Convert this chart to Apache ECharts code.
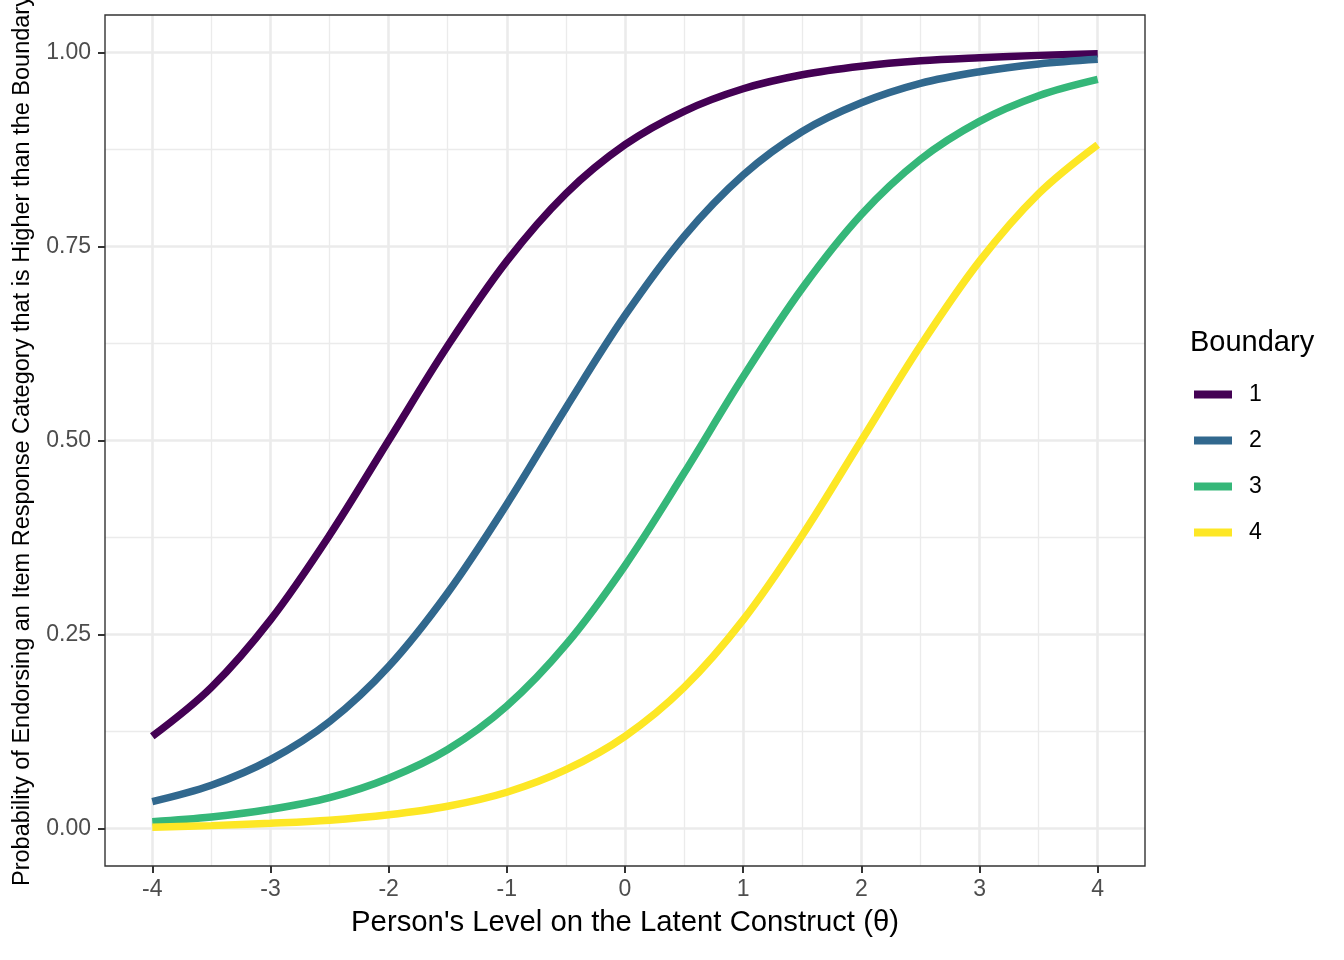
<!DOCTYPE html>
<html>
<head>
<meta charset="utf-8">
<script src="https://cdn.jsdelivr.net/npm/echarts@6/dist/echarts.min.js"></script>
<style>
html,body{margin:0;padding:0;background:#fff;}
#chart{width:1344px;height:960px;}
</style>
</head>
<body>
<div id="chart"></div>
<script>
// ---- data ----
var thetaValues = [-4,-3.5,-3,-2.5,-2,-1.5,-1,-0.5,0,0.5,1,1.5,2,2.5,3,3.5,4];
var boundary1 = [0.119,0.182,0.269,0.378,0.500,0.622,0.731,0.818,0.881,0.924,0.953,0.971,0.982,0.989,0.993,0.996,0.998];
var boundary2 = [0.035,0.056,0.089,0.138,0.209,0.304,0.418,0.542,0.661,0.763,0.842,0.898,0.935,0.960,0.975,0.985,0.991];
var boundary3 = [0.009,0.015,0.025,0.040,0.065,0.102,0.158,0.237,0.339,0.458,0.582,0.696,0.791,0.862,0.911,0.944,0.965];
var boundary4 = [0.002,0.004,0.007,0.011,0.018,0.029,0.047,0.076,0.119,0.182,0.269,0.378,0.500,0.622,0.731,0.818,0.881];
var seriesNames = ['1','2','3','4'];
var xTicks = [-4,-3,-2,-1,0,1,2,3,4];
var xMinorTicks = [-3.5,-2.5,-1.5,-0.5,0.5,1.5,2.5,3.5];
var yTicks = [0,0.25,0.5,0.75,1];
var yMinorTicks = [0.125,0.375,0.625,0.875];
var colors = ['#440154','#31688E','#35B779','#FDE725'];

var FONT = '"Liberation Sans", Arial, Helvetica, sans-serif';
var allSeries = [boundary1, boundary2, boundary3, boundary4];

function pairs(ys){ return thetaValues.map(function(x,i){ return [x, ys[i]]; }); }

var chart = echarts.init(document.getElementById('chart'), null, {renderer:'canvas'});
var xMin = -4.4, xMax = 4.4, yMin = -0.048, yMax = 1.048;

var option = {
  backgroundColor: '#ffffff',
  animation: false,
  textStyle: {fontFamily: FONT},
  color: colors,
  title: {
    text: 'Boundary', left: 1185, top: 323,
    textStyle: {fontFamily: FONT, fontSize: 29, fontWeight: 'normal', color: '#000'}
  },
  legend: {
    orient: 'vertical', left: 1189, top: 378,
    icon: 'rect', itemWidth: 38, itemHeight: 8, itemGap: 23,
    data: seriesNames,
    textStyle: {fontFamily: FONT, fontSize: 23, color: '#000', padding: [0,0,0,12]}
  },
  grid: {
    left: 105, right: 199, top: 15, bottom: 94,
    show: true, borderColor: '#333333', borderWidth: 1.4, backgroundColor: 'transparent',
    containLabel: false, outerBoundsMode: 'none', z: 5
  },
  xAxis: [{
    type: 'value', min: xMin, max: xMax,
    name: "Person's Level on the Latent Construct (\u03b8)",
    nameLocation: 'middle', nameGap: 42,
    nameTextStyle: {fontFamily: FONT, fontSize: 29.3, color: '#000'},
    axisLine: {show: false, onZero: false},
    axisTick: {show: true, customValues: xTicks, length: 7, lineStyle: {color: '#333333', width: 2}},
    axisLabel: {customValues: xTicks, margin: 12, fontFamily: FONT, fontSize: 23, color: '#4D4D4D'},
    splitLine: {show: true, lineStyle: {color: '#EBEBEB', width: 2.6}}
  },{
    type: 'value', min: xMin, max: xMax, position: 'bottom',
    axisLine: {show: false, onZero: false}, axisLabel: {show: false},
    axisTick: {show: false, customValues: xMinorTicks},
    splitLine: {show: true, lineStyle: {color: '#EBEBEB', width: 1.3}}
  }],
  yAxis: [{
    type: 'value', min: yMin, max: yMax,
    name: 'Probability of Endorsing an Item Response Category that is Higher than the Boundary',
    nameLocation: 'middle', nameGap: 70,
    nameTextStyle: {fontFamily: FONT, fontSize: 23.5, color: '#000'},
    axisLine: {show: false, onZero: false},
    axisTick: {show: true, customValues: yTicks, length: 7, lineStyle: {color: '#333333', width: 2}},
    axisLabel: {customValues: yTicks, margin: 14, fontFamily: FONT, fontSize: 23, color: '#4D4D4D',
      formatter: function(v){ return v.toFixed(2); }},
    splitLine: {show: true, lineStyle: {color: '#EBEBEB', width: 2.6}}
  },{
    type: 'value', min: yMin, max: yMax, position: 'left',
    axisLine: {show: false, onZero: false}, axisLabel: {show: false},
    axisTick: {show: false, customValues: yMinorTicks},
    splitLine: {show: true, lineStyle: {color: '#EBEBEB', width: 1.3}}
  }],
  series: allSeries.map(function(ys, i){
    return {
      name: seriesNames[i], type: 'line', xAxisIndex: 0, yAxisIndex: 0,
      data: pairs(ys), smooth: 0.35,
      showSymbol: false, symbol: 'none',
      lineStyle: {width: 7.5, color: colors[i], cap: 'butt'},
      itemStyle: {color: colors[i]},
      z: 2 + i
    };
  })
};
chart.setOption(option);
</script>
</body>
</html>
